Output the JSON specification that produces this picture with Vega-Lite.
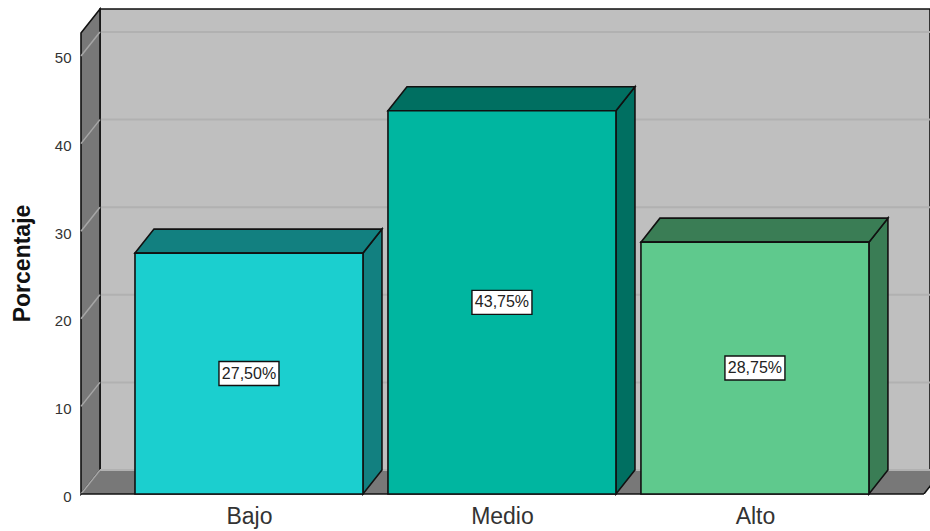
{
  "$schema": "https://vega.github.io/schema/vega-lite/v6.json",
  "width": 849,
  "height": 485,
  "autosize": "none",
  "padding": {"left": 81, "top": 9, "right": 0, "bottom": 37},
  "background": "white",
  "config": {"view": {"stroke": null}, "font": "Liberation Sans"},
  "datasets": {
    "categorias": [
      {"categoria": "Bajo", "posicion": 1, "porcentaje": 27.5},
      {"categoria": "Medio", "posicion": 2, "porcentaje": 43.75},
      {"categoria": "Alto", "posicion": 3, "porcentaje": 28.75}
    ],
    "rejilla": [
      {"marca": 0}, {"marca": 10}, {"marca": 20}, {"marca": 30}, {"marca": 40}, {"marca": 50}
    ],
    "marco": [{"plano": "caja"}]
  },
  "layer": [
    {
      "description": "Pared del fondo",
      "data": {"name": "marco"},
      "mark": {"type": "rect", "fill": "#bfbfbf", "stroke": "#111111", "strokeWidth": 1.6},
      "encoding": {
        "x": {"datum": 0.411, "type": "quantitative", "scale": {"domain": [0.336, 3.692], "nice": false, "zero": false}, "axis": {"values": [1, 2, 3], "labelExpr": "datum.value == 1 ? 'Bajo' : datum.value == 2 ? 'Medio' : 'Alto'", "title": null, "ticks": false, "domain": false, "grid": false, "labelFontSize": 23, "labelColor": "#333333", "labelPadding": 11, "labelAngle": 0, "labelFlush": false, "labelOverlap": false}},
        "x2": {"datum": 3.692},
        "y": {"datum": 2.74, "type": "quantitative", "scale": {"domain": [0, 55.365], "nice": false, "zero": false}, "axis": {"values": [0, 10, 20, 30, 40, 50], "title": "Porcentaje", "titleFontSize": 23, "titleFontWeight": "bold", "titleColor": "#111111", "titleX": -47, "titleY": 254, "ticks": false, "domain": false, "grid": false, "labelFontSize": 15, "labelColor": "#333333", "labelPadding": 10, "labelOffset": 2, "labelFlush": false, "labelOverlap": false}},
        "y2": {"datum": 55.365}
      }
    },
    {
      "description": "Lineas de rejilla en la pared del fondo",
      "data": {"name": "rejilla"},
      "transform": [{"calculate": "datum.marca + 2.74", "as": "altura"}],
      "mark": {"type": "rule", "stroke": "#b1b1b1", "strokeWidth": 2},
      "encoding": {
        "x": {"datum": 0.411, "type": "quantitative", "scale": {"domain": [0.336, 3.692], "nice": false, "zero": false}},
        "x2": {"datum": 3.692},
        "y": {"field": "altura", "type": "quantitative", "scale": {"domain": [0, 55.365], "nice": false, "zero": false}}
      }
    },
    {
      "description": "Pared izquierda",
      "data": {"name": "marco"},
      "transform": [
        {"calculate": "[0.336, 0.411]", "as": "xv"},
        {"calculate": "[0, 2.74]", "as": "yb"},
        {"calculate": "[52.63, 55.365]", "as": "yt"},
        {"flatten": ["xv", "yb", "yt"]}
      ],
      "mark": {"type": "area", "fill": "#787878", "stroke": "#111111", "strokeWidth": 1.6},
      "encoding": {
        "x": {"field": "xv", "type": "quantitative", "scale": {"domain": [0.336, 3.692], "nice": false, "zero": false}},
        "y": {"field": "yt", "type": "quantitative", "scale": {"domain": [0, 55.365], "nice": false, "zero": false}},
        "y2": {"field": "yb"}
      }
    },
    {
      "description": "Suelo",
      "data": {"name": "marco"},
      "transform": [
        {"calculate": "[0.336, 0.411, 3.668, 3.743]", "as": "xv"},
        {"calculate": "[0, 0, 0, 2.74]", "as": "yb"},
        {"calculate": "[0, 2.74, 2.74, 2.74]", "as": "yt"},
        {"flatten": ["xv", "yb", "yt"]}
      ],
      "mark": {"type": "area", "fill": "#787878", "clip": true},
      "encoding": {
        "x": {"field": "xv", "type": "quantitative", "scale": {"domain": [0.336, 3.692], "nice": false, "zero": false}},
        "y": {"field": "yt", "type": "quantitative", "scale": {"domain": [0, 55.365], "nice": false, "zero": false}},
        "y2": {"field": "yb"}
      }
    },
    {
      "description": "Franja de la marca cero al pie de la pared del fondo",
      "data": {"name": "rejilla"},
      "transform": [{"filter": "datum.marca == 0"}, {"calculate": "datum.marca + 2.74", "as": "altura"}],
      "mark": {"type": "rule", "stroke": "#b1b1b1", "strokeWidth": 2},
      "encoding": {
        "x": {"datum": 0.411, "type": "quantitative", "scale": {"domain": [0.336, 3.692], "nice": false, "zero": false}},
        "x2": {"datum": 3.692},
        "y": {"field": "altura", "type": "quantitative", "scale": {"domain": [0, 55.365], "nice": false, "zero": false}}
      }
    },
    {
      "description": "Diagonales de rejilla sobre la pared izquierda",
      "data": {"name": "rejilla"},
      "transform": [
        {"calculate": "[0.336, 0.411]", "as": "xv"},
        {"calculate": "[datum.marca, datum.marca + 2.74]", "as": "yv"},
        {"flatten": ["xv", "yv"]}
      ],
      "mark": {"type": "line", "stroke": "#a6a6a6", "strokeWidth": 1.5},
      "encoding": {
        "x": {"field": "xv", "type": "quantitative", "scale": {"domain": [0.336, 3.692], "nice": false, "zero": false}},
        "y": {"field": "yv", "type": "quantitative", "scale": {"domain": [0, 55.365], "nice": false, "zero": false}},
        "detail": {"field": "marca"}
      }
    },
    {
      "description": "Borde frontal del suelo",
      "data": {"name": "marco"},
      "mark": {"type": "rule", "stroke": "#111111", "strokeWidth": 1.6},
      "encoding": {
        "x": {"datum": 0.336, "type": "quantitative", "scale": {"domain": [0.336, 3.692], "nice": false, "zero": false}},
        "x2": {"datum": 3.668},
        "y": {"datum": 0, "type": "quantitative", "scale": {"domain": [0, 55.365], "nice": false, "zero": false}}
      }
    },
    {
      "description": "Borde oblicuo derecho del suelo",
      "data": {"name": "marco"},
      "transform": [
        {"calculate": "[3.668, 3.743]", "as": "xv"},
        {"calculate": "[0, 2.74]", "as": "yv"},
        {"flatten": ["xv", "yv"]}
      ],
      "mark": {"type": "line", "stroke": "#111111", "strokeWidth": 1.6, "clip": true},
      "encoding": {
        "x": {"field": "xv", "type": "quantitative", "scale": {"domain": [0.336, 3.692], "nice": false, "zero": false}},
        "y": {"field": "yv", "type": "quantitative", "scale": {"domain": [0, 55.365], "nice": false, "zero": false}}
      }
    },
    {
      "description": "Cara lateral de cada barra",
      "data": {"name": "categorias"},
      "transform": [
        {"calculate": "[datum.posicion + 0.4506, datum.posicion + 0.5257]", "as": "xv"},
        {"calculate": "[0, 2.74]", "as": "yb"},
        {"calculate": "[datum.porcentaje, datum.porcentaje + 2.74]", "as": "yt"},
        {"flatten": ["xv", "yb", "yt"]}
      ],
      "mark": {"type": "area", "stroke": "#111111", "strokeWidth": 1.6},
      "encoding": {
        "x": {"field": "xv", "type": "quantitative", "scale": {"domain": [0.336, 3.692], "nice": false, "zero": false}},
        "y": {"field": "yt", "type": "quantitative", "scale": {"domain": [0, 55.365], "nice": false, "zero": false}},
        "y2": {"field": "yb"},
        "fill": {"field": "categoria", "type": "nominal", "legend": null, "scale": {"domain": ["Bajo", "Medio", "Alto"], "range": ["#128080", "#006f61", "#3a7d55"]}}
      }
    },
    {
      "description": "Cara superior de cada barra",
      "data": {"name": "categorias"},
      "transform": [
        {"calculate": "[datum.posicion - 0.4506, datum.posicion - 0.3755, datum.posicion + 0.4506, datum.posicion + 0.5257]", "as": "xv"},
        {"calculate": "[datum.porcentaje, datum.porcentaje, datum.porcentaje, datum.porcentaje + 2.74]", "as": "yb"},
        {"calculate": "[datum.porcentaje, datum.porcentaje + 2.74, datum.porcentaje + 2.74, datum.porcentaje + 2.74]", "as": "yt"},
        {"flatten": ["xv", "yb", "yt"]}
      ],
      "mark": {"type": "area", "stroke": "#111111", "strokeWidth": 1.6},
      "encoding": {
        "x": {"field": "xv", "type": "quantitative", "scale": {"domain": [0.336, 3.692], "nice": false, "zero": false}},
        "y": {"field": "yt", "type": "quantitative", "scale": {"domain": [0, 55.365], "nice": false, "zero": false}},
        "y2": {"field": "yb"},
        "fill": {"field": "categoria", "type": "nominal", "legend": null, "scale": {"domain": ["Bajo", "Medio", "Alto"], "range": ["#128080", "#006f61", "#3a7d55"]}}
      }
    },
    {
      "description": "Cara frontal de cada barra",
      "data": {"name": "categorias"},
      "transform": [
        {"calculate": "datum.posicion - 0.4506", "as": "izquierda"},
        {"calculate": "datum.posicion + 0.4506", "as": "derecha"}
      ],
      "mark": {"type": "rect", "stroke": "#111111", "strokeWidth": 1.6},
      "encoding": {
        "x": {"field": "izquierda", "type": "quantitative", "scale": {"domain": [0.336, 3.692], "nice": false, "zero": false}},
        "x2": {"field": "derecha"},
        "y": {"field": "porcentaje", "type": "quantitative", "scale": {"domain": [0, 55.365], "nice": false, "zero": false}},
        "y2": {"datum": 0},
        "fill": {"field": "categoria", "type": "nominal", "legend": null, "scale": {"domain": ["Bajo", "Medio", "Alto"], "range": ["#1bcfcf", "#00b6a0", "#5fc98d"]}}
      }
    },
    {
      "description": "Recuadro blanco de cada etiqueta",
      "data": {"name": "categorias"},
      "transform": [{"calculate": "datum.porcentaje / 2", "as": "centro"}],
      "mark": {"type": "rect", "width": 60, "height": 24, "fill": "white", "stroke": "#111111", "strokeWidth": 1.4},
      "encoding": {
        "x": {"field": "posicion", "type": "quantitative", "scale": {"domain": [0.336, 3.692], "nice": false, "zero": false}},
        "y": {"field": "centro", "type": "quantitative", "scale": {"domain": [0, 55.365], "nice": false, "zero": false}}
      }
    },
    {
      "description": "Valor de cada barra",
      "data": {"name": "categorias"},
      "transform": [
        {"calculate": "datum.porcentaje / 2", "as": "centro"},
        {"calculate": "replace(format(datum.porcentaje, '.2f'), '.', ',') + '%'", "as": "etiqueta"}
      ],
      "mark": {"type": "text", "fontSize": 16, "color": "#222222", "align": "center", "baseline": "middle"},
      "encoding": {
        "x": {"field": "posicion", "type": "quantitative", "scale": {"domain": [0.336, 3.692], "nice": false, "zero": false}},
        "y": {"field": "centro", "type": "quantitative", "scale": {"domain": [0, 55.365], "nice": false, "zero": false}},
        "text": {"field": "etiqueta"}
      }
    }
  ],
  "resolve": {"scale": {"fill": "independent"}}
}
